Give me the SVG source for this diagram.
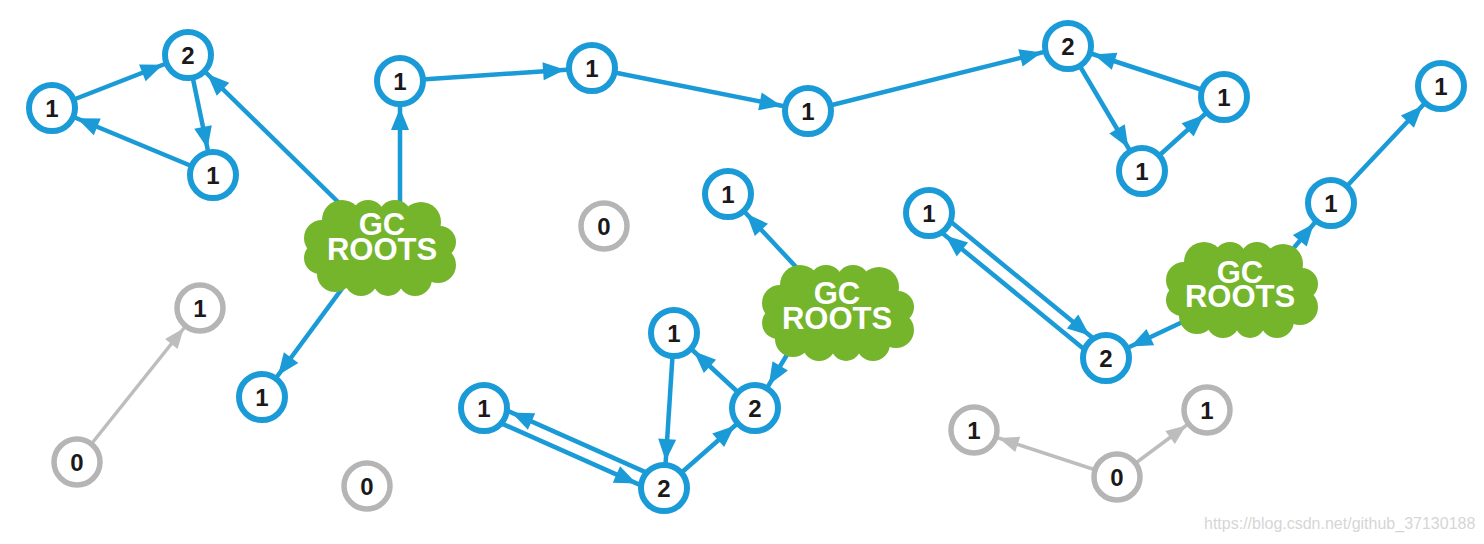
<svg xmlns="http://www.w3.org/2000/svg" xmlns:xlink="http://www.w3.org/1999/xlink" width="1484" height="544" viewBox="0 0 1484 544">
<style>
.bn circle{fill:#fff;stroke:#1a9bd7;stroke-width:6}
.gn circle{fill:#fff;stroke:#b5b5b5;stroke-width:5.5}
.bn text,.gn text{font-family:"Liberation Sans",Arial,sans-serif;font-weight:bold;font-size:24px;fill:#1a1a1a;text-anchor:middle}
.cl text{font-family:"Liberation Sans",Arial,sans-serif;font-weight:bold;font-size:31px;fill:#fff;text-anchor:middle}
.be{stroke:#1a9bd7;stroke-width:4.5;fill:none;marker-end:url(#ab)}
.ge{stroke:#bdbdbd;stroke-width:3.5;fill:none;marker-end:url(#ag)}
.wm{font-family:"Liberation Sans",Arial,sans-serif;font-size:16px;fill:#d6d6d6}
</style>
<defs>
<marker id="ab" markerUnits="userSpaceOnUse" markerWidth="22" markerHeight="18" refX="49" refY="9" orient="auto" overflow="visible">
<path d="M0,0 L22,9 L0,18 z" fill="#1a9bd7"/>
</marker>
<marker id="ag" markerUnits="userSpaceOnUse" markerWidth="20" markerHeight="16" refX="46" refY="8" orient="auto" overflow="visible">
<path d="M0,0 L20,8 L0,16 z" fill="#bdbdbd"/>
</marker>
<g id="cloud" fill="#74b52b">
<ellipse cx="0" cy="0" rx="62" ry="34"/>
<circle cx="-58" cy="-10" r="18"/>
<circle cx="-38" cy="-28" r="20"/>
<circle cx="-12" cy="-31" r="17"/>
<circle cx="15" cy="-31" r="17"/>
<circle cx="41" cy="-26" r="20"/>
<circle cx="60" cy="-6" r="16"/>
<circle cx="58" cy="17" r="18"/>
<circle cx="35" cy="31" r="17"/>
<circle cx="8" cy="33" r="15"/>
<circle cx="-19" cy="31" r="17"/>
<circle cx="-45" cy="26" r="18"/>
<circle cx="-60" cy="10" r="16"/>
</g>
</defs>
<rect width="1484" height="544" fill="#fff"/>
<g id="connectors">
<line class="be" x1="52" y1="108" x2="188" y2="55"/>
<line class="be" x1="188" y1="55" x2="213" y2="175"/>
<line class="be" x1="213" y1="175" x2="52" y2="108"/>
<line class="be" x1="383" y1="246" x2="188" y2="55"/>
<line class="be" x1="400" y1="248" x2="400" y2="81"/>
<line class="be" x1="372" y1="248" x2="262" y2="397"/>
<line class="be" x1="400" y1="81" x2="592" y2="68"/>
<line class="be" x1="592" y1="68" x2="808" y2="111"/>
<line class="be" x1="808" y1="111" x2="1068" y2="46"/>
<line class="be" x1="1068" y1="46" x2="1142" y2="171"/>
<line class="be" x1="1142" y1="171" x2="1224" y2="97"/>
<line class="be" x1="1224" y1="97" x2="1068" y2="46"/>
<line class="be" x1="1259" y1="290" x2="1331" y2="203"/>
<line class="be" x1="1331" y1="203" x2="1441" y2="86"/>
<line class="be" x1="1242" y1="294" x2="1106" y2="358"/>
<line class="be" x1="933.5" y1="207.6" x2="1110.5" y2="352.6"/>
<line class="be" x1="1101.5" y1="363.4" x2="924.5" y2="218.4"/>
<line class="be" x1="838" y1="312" x2="728" y2="194"/>
<line class="be" x1="812" y1="313" x2="755" y2="408"/>
<line class="be" x1="755" y1="408" x2="674" y2="333"/>
<line class="be" x1="674" y1="333" x2="664" y2="488"/>
<line class="be" x1="664" y1="488" x2="755" y2="408"/>
<line class="be" x1="666.8" y1="481.6" x2="486.8" y2="401.6"/>
<line class="be" x1="481.2" y1="414.4" x2="661.2" y2="494.4"/>
<line class="ge" x1="77" y1="462" x2="200" y2="308"/>
<line class="ge" x1="1117" y1="477" x2="974" y2="430"/>
<line class="ge" x1="1117" y1="477" x2="1207" y2="410"/>
</g>
<g id="nA" class="bn"><circle cx="52" cy="108" r="23"/><text x="52" y="116.6">1</text></g>
<g id="nB" class="bn"><circle cx="188" cy="55" r="23"/><text x="188" y="63.6">2</text></g>
<g id="nC" class="bn"><circle cx="213" cy="175" r="23"/><text x="213" y="183.6">1</text></g>
<g id="nD" class="bn"><circle cx="400" cy="81" r="23"/><text x="400" y="89.6">1</text></g>
<g id="nE" class="bn"><circle cx="592" cy="68" r="23"/><text x="592" y="76.6">1</text></g>
<g id="nF" class="bn"><circle cx="808" cy="111" r="23"/><text x="808" y="119.6">1</text></g>
<g id="nG" class="bn"><circle cx="1068" cy="46" r="23"/><text x="1068" y="54.6">2</text></g>
<g id="nH" class="bn"><circle cx="1224" cy="97" r="23"/><text x="1224" y="105.6">1</text></g>
<g id="nI" class="bn"><circle cx="1142" cy="171" r="23"/><text x="1142" y="179.6">1</text></g>
<g id="nJ" class="bn"><circle cx="1441" cy="86" r="23"/><text x="1441" y="94.6">1</text></g>
<g id="nK" class="bn"><circle cx="1331" cy="203" r="23"/><text x="1331" y="211.6">1</text></g>
<g id="nL" class="bn"><circle cx="929" cy="213" r="23"/><text x="929" y="221.6">1</text></g>
<g id="nM" class="bn"><circle cx="1106" cy="358" r="23"/><text x="1106" y="366.6">2</text></g>
<g id="nN" class="bn"><circle cx="728" cy="194" r="23"/><text x="728" y="202.6">1</text></g>
<g id="nP" class="bn"><circle cx="674" cy="333" r="23"/><text x="674" y="341.6">1</text></g>
<g id="nQ" class="bn"><circle cx="755" cy="408" r="23"/><text x="755" y="416.6">2</text></g>
<g id="nR" class="bn"><circle cx="484" cy="408" r="23"/><text x="484" y="416.6">1</text></g>
<g id="nS" class="bn"><circle cx="664" cy="488" r="23"/><text x="664" y="496.6">2</text></g>
<g id="nV" class="bn"><circle cx="262" cy="397" r="23"/><text x="262" y="405.6">1</text></g>
<g id="gO" class="gn"><circle cx="604" cy="226" r="23"/><text x="604" y="234.6">0</text></g>
<g id="gT" class="gn"><circle cx="200" cy="308" r="23"/><text x="200" y="316.6">1</text></g>
<g id="gU" class="gn"><circle cx="77" cy="462" r="23"/><text x="77" y="470.6">0</text></g>
<g id="gW" class="gn"><circle cx="367" cy="486" r="23"/><text x="367" y="494.6">0</text></g>
<g id="gX" class="gn"><circle cx="974" cy="430" r="23"/><text x="974" y="438.6">1</text></g>
<g id="gY" class="gn"><circle cx="1117" cy="477" r="23"/><text x="1117" y="485.6">0</text></g>
<g id="gZ" class="gn"><circle cx="1207" cy="410" r="23"/><text x="1207" y="418.6">1</text></g>
<g id="root1" class="cl"><use xlink:href="#cloud" href="#cloud" transform="translate(380,248)"/><text x="382" y="235">GC<tspan x="382" dy="25">ROOTS</tspan></text></g>
<g id="root2" class="cl"><use xlink:href="#cloud" href="#cloud" transform="translate(838,313)"/><text x="837" y="304">GC<tspan x="837" dy="25">ROOTS</tspan></text></g>
<g id="root3" class="cl"><use xlink:href="#cloud" href="#cloud" transform="translate(1242,290)"/><text x="1240" y="283">GC<tspan x="1240" dy="24">ROOTS</tspan></text></g>
<text class="wm" x="1204" y="529">https://blog.csdn.net/github_37130188</text>
</svg>
